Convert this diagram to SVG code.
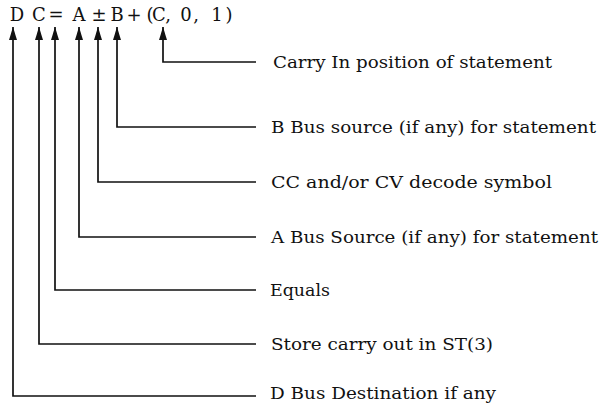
<svg xmlns="http://www.w3.org/2000/svg" width="601" height="403" viewBox="0 0 601 403">
<style>
.eq{font-family:"DejaVu Serif","Liberation Serif",serif;font-size:18px;fill:#111;text-anchor:middle}
.lbl{font-family:"DejaVu Serif","Liberation Serif",serif;font-size:16px;fill:#111}
.con{fill:none;stroke:#111;stroke-width:1.7;marker-end:url(#arr)}
</style>
<defs>
<marker id="arr" viewBox="0 0 13 8" refX="13" refY="4" markerUnits="userSpaceOnUse" markerWidth="13" markerHeight="8" orient="auto">
<path d="M0,0 L13,4 L0,8 z" fill="#111"/>
</marker>
</defs>
<g id="equation">
<text class="eq" y="21"><tspan x="17">D</tspan><tspan x="39">C</tspan><tspan x="56">=</tspan><tspan x="79">A</tspan><tspan x="99">±</tspan><tspan x="117">B</tspan><tspan x="134">+</tspan><tspan x="150">(</tspan><tspan x="159">C</tspan><tspan x="168">,</tspan><tspan x="186">0</tspan><tspan x="196">,</tspan><tspan x="217">1</tspan><tspan x="229">)</tspan></text>
</g>
<g id="connectors">
<path class="con" d="M256,62 H163 V27"/>
<path class="con" d="M256,127 H117 V27"/>
<path class="con" d="M256,182 H98 V27"/>
<path class="con" d="M256,237 H79 V27"/>
<path class="con" d="M256,290 H55 V27"/>
<path class="con" d="M256,344 H39 V27"/>
<path class="con" d="M256,396 H13 V27"/>
</g>
<g id="label-carry"><text class="lbl" x="273" y="67.5" textLength="279" lengthAdjust="spacingAndGlyphs">Carry In position of statement</text></g>
<g id="label-bbus"><text class="lbl" x="271" y="132.5" textLength="325" lengthAdjust="spacingAndGlyphs">B Bus source (if any) for statement</text></g>
<g id="label-cc"><text class="lbl" x="271" y="187.5" textLength="281" lengthAdjust="spacingAndGlyphs">CC and/or CV decode symbol</text></g>
<g id="label-abus"><text class="lbl" x="271" y="242.5" textLength="327" lengthAdjust="spacingAndGlyphs">A Bus Source (if any) for statement</text></g>
<g id="label-equals"><text class="lbl" x="270" y="295.5" textLength="60" lengthAdjust="spacingAndGlyphs">Equals</text></g>
<g id="label-store"><text class="lbl" x="271" y="349.5" textLength="222" lengthAdjust="spacingAndGlyphs">Store carry out in ST(3)</text></g>
<g id="label-dbus"><text class="lbl" x="270" y="398.5" textLength="226" lengthAdjust="spacingAndGlyphs">D Bus Destination if any</text></g>
</svg>
